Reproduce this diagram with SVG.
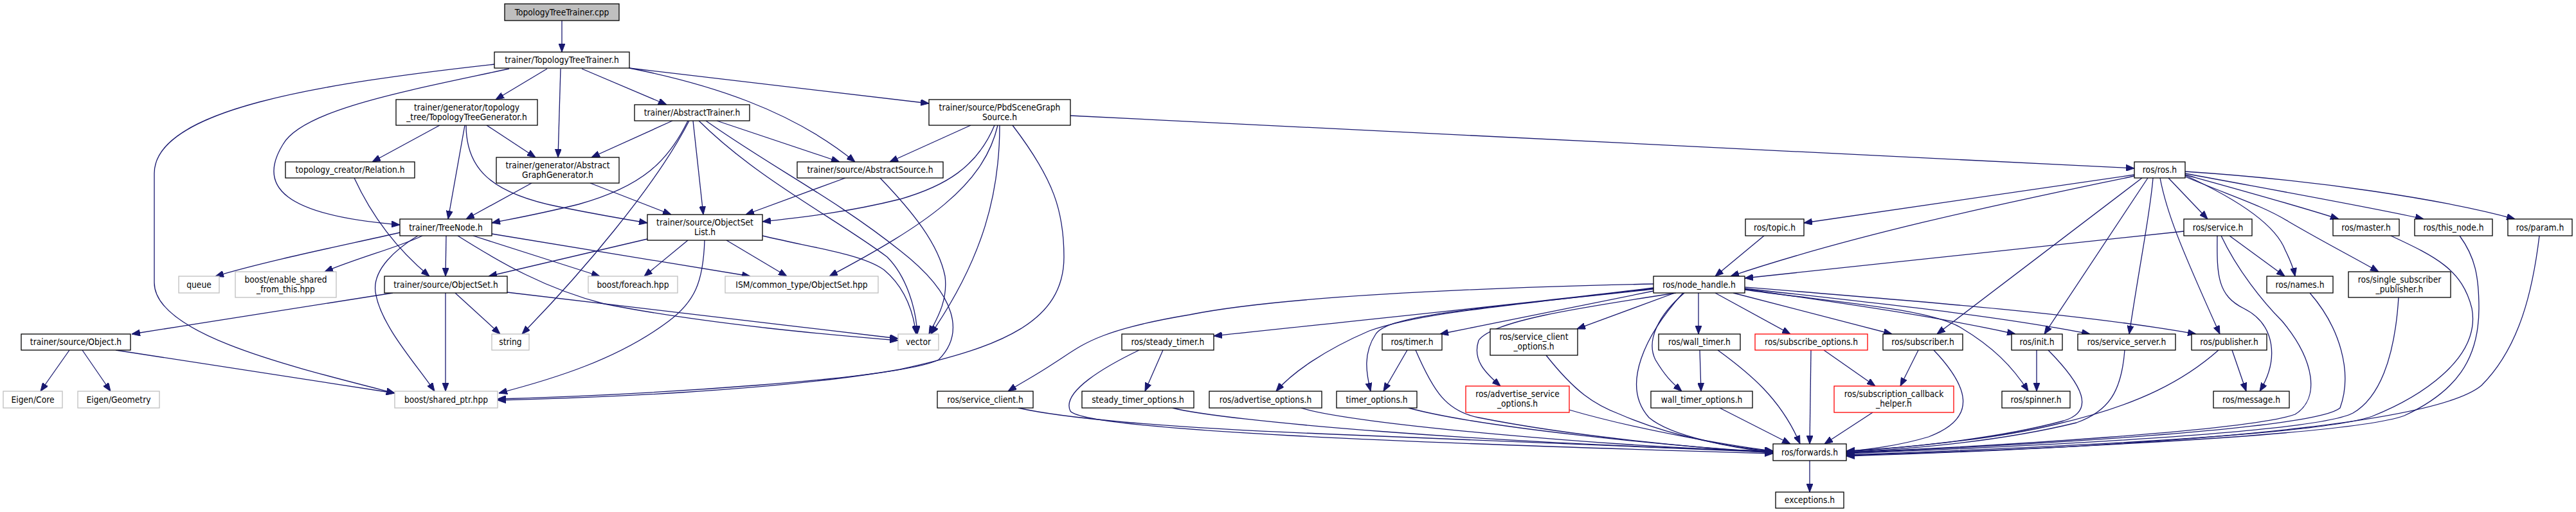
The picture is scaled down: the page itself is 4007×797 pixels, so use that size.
<svg xmlns="http://www.w3.org/2000/svg" width="4007" height="797" viewBox="0 0 4007 797">
<style>
.n rect{fill:#fff;stroke:#000;stroke-width:1.3}
.g rect{stroke:#bfbfbf}
.r rect{stroke:#ff0000}
.root rect{fill:#bfbfbf}
text{font-family:'DejaVu Sans Condensed','Liberation Sans',Arial,sans-serif;font-size:13.7px;text-anchor:middle;fill:#000}
#edges path{fill:none;stroke:#191970;stroke-width:1.3;marker-end:url(#a)}
</style>
<defs>
<marker id="a" markerUnits="userSpaceOnUse" markerWidth="13" markerHeight="10" refX="13" refY="5" orient="auto" viewBox="0 0 13 10"><path d="M0,0 L13,5 L0,10 z" fill="#191970" stroke="#191970" stroke-width="1"/></marker>
</defs>
<rect width="4007" height="797" fill="#fff"/>
<g id="edges">
<path d="M874,32 L874,81"/>
<path d="M851,107 L771,155"/>
<path d="M872,107 L868,245"/>
<path d="M905,107 L1037,163"/>
<path d="M979,106 C1100,130 1230,170 1330,252"/>
<path d="M979,106 L1445,161"/>
<path d="M792,107 C640,140 470,170 440,225 C400,290 440,335 622,350"/>
<path d="M769,100 C500,130 240,170 240,270 L240,440 C240,520 450,570 614,612"/>
<path d="M684,195 L579,252"/>
<path d="M723,195 L697,341"/>
<path d="M757,195 L833,245"/>
<path d="M725,195 C725,260 760,300 870,322 C930,334 970,341 1007,347"/>
<path d="M1046,188 L920,245"/>
<path d="M1070,188 C1040,250 1000,290 900,318 C840,333 800,340 765,347"/>
<path d="M1072,188 C1020,290 900,430 812,520"/>
<path d="M1078,188 L1094,334"/>
<path d="M1115,188 L1306,252"/>
<path d="M1087,188 C1180,280 1300,340 1380,400 C1410,430 1425,480 1427,520"/>
<path d="M1098,188 C1200,260 1300,310 1400,390 C1490,460 1500,520 1460,560 C1400,590 1000,615 774,621"/>
<path d="M827,285 L725,341"/>
<path d="M918,285 L1044,334"/>
<path d="M1315,277 L1160,334"/>
<path d="M1369,277 C1420,330 1460,380 1470,430 C1475,470 1455,500 1445,520"/>
<path d="M1510,195 L1384,252"/>
<path d="M1547,195 C1520,260 1470,290 1400,310 C1320,330 1250,338 1186,345"/>
<path d="M1552,195 C1530,290 1440,350 1290,430"/>
<path d="M1555,195 C1555,300 1530,400 1448,520"/>
<path d="M1575,195 C1640,280 1655,330 1655,400 C1655,500 1560,540 1400,575 C1200,610 900,620 774,623"/>
<path d="M1665,180 L3320,262"/>
<path d="M551,277 C580,340 620,390 668,430"/>
<path d="M622,362 C520,385 420,405 335,430"/>
<path d="M657,367 C620,385 560,400 505,423"/>
<path d="M650,367 C620,385 575,420 585,460 C595,510 650,570 676,609"/>
<path d="M694,367 L693,430"/>
<path d="M712,367 C780,410 850,450 940,473 C1100,505 1300,522 1397,530"/>
<path d="M736,367 L933,430"/>
<path d="M765,364 L1167,430"/>
<path d="M1007,372 L760,430"/>
<path d="M1070,374 L1002,430"/>
<path d="M1096,374 C1094,440 1080,470 1040,500 C960,560 860,590 776,612"/>
<path d="M1130,374 L1224,430"/>
<path d="M1186,367 C1260,385 1340,395 1375,420 C1405,445 1420,480 1425,520"/>
<path d="M611,456 L205,520"/>
<path d="M708,456 L778,520"/>
<path d="M693,456 L693,609"/>
<path d="M789,455 L1397,527"/>
<path d="M108,545 L63,609"/>
<path d="M128,545 L172,609"/>
<path d="M180,545 L614,612"/>
<path d="M3320,272 L2806,347"/>
<path d="M3320,274 C3150,310 2900,360 2692,430"/>
<path d="M3332,277 L3013,520"/>
<path d="M3341,277 L3180,520"/>
<path d="M3349,277 C3345,330 3330,400 3312,520"/>
<path d="M3360,277 C3370,330 3390,380 3453,520"/>
<path d="M3373,277 L3434,341"/>
<path d="M3399,273 C3480,310 3540,350 3555,390 C3565,410 3568,420 3570,430"/>
<path d="M3399,275 C3470,305 3520,320 3560,345 C3620,380 3660,400 3700,423"/>
<path d="M3399,272 C3500,300 3580,322 3638,341"/>
<path d="M3399,270 C3560,300 3700,325 3770,341"/>
<path d="M3399,267 C3600,280 3800,310 3912,341"/>
<path d="M2744,367 L2668,430"/>
<path d="M3397,360 L2714,433"/>
<path d="M3468,367 L3554,430"/>
<path d="M3449,367 C3448,430 3450,460 3490,480 C3540,505 3545,560 3515,609"/>
<path d="M3455,367 C3480,420 3520,470 3550,500 C3600,560 3610,620 3570,645 C3500,670 3100,695 2872,704"/>
<path d="M3472,545 L3494,609"/>
<path d="M3451,545 C3400,590 3330,630 3200,660 C3100,685 2950,698 2872,702"/>
<path d="M3593,456 C3640,510 3660,580 3640,635 C3600,670 3100,695 2872,705"/>
<path d="M3731,463 C3725,560 3700,620 3660,643 C3600,675 3100,697 2872,706"/>
<path d="M3719,367 C3790,400 3830,420 3845,480 C3860,560 3760,620 3690,648 C3600,680 3100,700 2872,708"/>
<path d="M3826,367 C3850,400 3856,430 3856,480 C3856,560 3820,610 3740,647 C3650,680 3100,702 2872,709"/>
<path d="M3950,367 C3940,450 3920,540 3860,600 C3800,650 3500,690 2872,710"/>
<path d="M2572,442 C2300,448 2000,460 1850,490 C1700,515 1680,540 1640,565 C1610,585 1590,595 1568,609"/>
<path d="M2572,448 C2400,470 2100,500 1888,523"/>
<path d="M2572,449 C2300,480 2200,490 2130,515 C2060,545 2010,580 1985,609"/>
<path d="M2572,450 C2300,480 2160,490 2140,520 C2120,550 2125,580 2132,609"/>
<path d="M2572,453 L2240,520"/>
<path d="M2607,456 C2450,480 2320,500 2300,530 C2290,560 2310,580 2334,601"/>
<path d="M2605,456 L2453,512"/>
<path d="M2620,456 C2580,490 2560,530 2575,560 C2590,585 2600,595 2616,609"/>
<path d="M2642,456 L2642,520"/>
<path d="M2618,456 C2560,520 2520,600 2565,650 C2600,680 2700,698 2758,704"/>
<path d="M2668,456 L2785,520"/>
<path d="M2696,456 L2943,520"/>
<path d="M2714,447 C3000,470 3250,490 3416,520"/>
<path d="M2714,449 C2900,470 3100,490 3251,520"/>
<path d="M2714,450 C2850,470 3000,490 3135,520"/>
<path d="M2714,451 C2850,470 3000,480 3050,510 C3100,540 3130,570 3155,609"/>
<path d="M1809,545 L1781,609"/>
<path d="M1772,545 C1720,570 1650,610 1665,640 C1690,670 2200,690 2758,706"/>
<path d="M2189,545 L2152,609"/>
<path d="M2202,545 C2230,610 2250,640 2300,650 C2450,680 2650,698 2758,705"/>
<path d="M2405,553 C2450,610 2480,630 2520,645 C2600,680 2700,698 2758,702"/>
<path d="M2644,545 L2646,609"/>
<path d="M2672,545 C2720,580 2770,620 2800,691"/>
<path d="M2837,545 L2917,601"/>
<path d="M2817,545 L2815,691"/>
<path d="M2984,545 L2956,601"/>
<path d="M3008,545 C3060,600 3080,650 3000,680 C2950,695 2900,700 2872,703"/>
<path d="M3168,545 L3168,609"/>
<path d="M3186,545 C3240,600 3260,640 3210,655 C3100,685 2950,698 2872,703"/>
<path d="M3305,545 C3300,610 3280,640 3230,658 C3100,690 2950,700 2872,704"/>
<path d="M1584,635 C1650,650 1800,665 2050,675 C2400,690 2650,700 2758,704"/>
<path d="M1824,635 C1900,655 2300,690 2758,702"/>
<path d="M2024,635 C2100,660 2500,695 2758,703"/>
<path d="M2191,635 C2300,665 2600,695 2758,704"/>
<path d="M2441,638 C2550,670 2700,695 2758,702"/>
<path d="M2675,635 L2785,691"/>
<path d="M2913,642 L2838,691"/>
<path d="M2815,717 L2815,766"/>
</g>
<g id="n_cpp" class="n root"><rect x="785" y="6" width="178" height="26"/><text x="874" y="23.5">TopologyTreeTrainer.cpp</text></g>
<g id="n_ttt" class="n"><rect x="769" y="81" width="210" height="25"/><text x="874" y="98">trainer/TopologyTreeTrainer.h</text></g>
<g id="n_ttg" class="n"><rect x="616" y="155" width="220" height="40"/><text x="726" y="171.5">trainer/generator/topology</text><text x="726" y="186.5">_tree/TopologyTreeGenerator.h</text></g>
<g id="n_at" class="n"><rect x="987" y="163" width="179" height="25"/><text x="1076.5" y="180">trainer/AbstractTrainer.h</text></g>
<g id="n_psg" class="n"><rect x="1445" y="155" width="220" height="40"/><text x="1555" y="171.5">trainer/source/PbdSceneGraph</text><text x="1555" y="186.5">Source.h</text></g>
<g id="n_rel" class="n"><rect x="444" y="252" width="201" height="25"/><text x="544.5" y="269">topology_creator/Relation.h</text></g>
<g id="n_agg" class="n"><rect x="772" y="245" width="191" height="40"/><text x="867.5" y="261.5">trainer/generator/Abstract</text><text x="867.5" y="276.5">GraphGenerator.h</text></g>
<g id="n_as" class="n"><rect x="1240" y="252" width="227" height="25"/><text x="1353.5" y="269">trainer/source/AbstractSource.h</text></g>
<g id="n_ros" class="n"><rect x="3320" y="252" width="79" height="25"/><text x="3359.5" y="269">ros/ros.h</text></g>
<g id="n_tn" class="n"><rect x="622" y="341" width="143" height="26"/><text x="693.5" y="358.5">trainer/TreeNode.h</text></g>
<g id="n_osl" class="n"><rect x="1007" y="334" width="179" height="40"/><text x="1096.5" y="350.5">trainer/source/ObjectSet</text><text x="1096.5" y="365.5">List.h</text></g>
<g id="n_topic" class="n"><rect x="2715" y="341" width="91" height="26"/><text x="2760.5" y="358.5">ros/topic.h</text></g>
<g id="n_service" class="n"><rect x="3397" y="341" width="106" height="26"/><text x="3450" y="358.5">ros/service.h</text></g>
<g id="n_master" class="n"><rect x="3629" y="341" width="103" height="26"/><text x="3680.5" y="358.5">ros/master.h</text></g>
<g id="n_thisnode" class="n"><rect x="3756" y="341" width="121" height="26"/><text x="3816.5" y="358.5">ros/this_node.h</text></g>
<g id="n_param" class="n"><rect x="3901" y="341" width="100" height="26"/><text x="3951" y="358.5">ros/param.h</text></g>
<g id="n_queue" class="n g"><rect x="278" y="430" width="63" height="26"/><text x="309.5" y="447.5">queue</text></g>
<g id="n_esft" class="n g"><rect x="366" y="423" width="157" height="40"/><text x="444.5" y="439.5">boost/enable_shared</text><text x="444.5" y="454.5">_from_this.hpp</text></g>
<g id="n_os" class="n"><rect x="598" y="430" width="191" height="26"/><text x="693.5" y="447.5">trainer/source/ObjectSet.h</text></g>
<g id="n_foreach" class="n g"><rect x="915" y="430" width="139" height="26"/><text x="984.5" y="447.5">boost/foreach.hpp</text></g>
<g id="n_ism" class="n g"><rect x="1128" y="430" width="238" height="26"/><text x="1247" y="447.5">ISM/common_type/ObjectSet.hpp</text></g>
<g id="n_nh" class="n"><rect x="2572" y="430" width="142" height="26"/><text x="2643" y="447.5">ros/node_handle.h</text></g>
<g id="n_names" class="n"><rect x="3526" y="430" width="103" height="26"/><text x="3577.5" y="447.5">ros/names.h</text></g>
<g id="n_ssp" class="n"><rect x="3653" y="423" width="159" height="40"/><text x="3732.5" y="439.5">ros/single_subscriber</text><text x="3732.5" y="454.5">_publisher.h</text></g>
<g id="n_obj" class="n"><rect x="33" y="520" width="170" height="25"/><text x="118" y="537">trainer/source/Object.h</text></g>
<g id="n_string" class="n g"><rect x="765" y="520" width="58" height="25"/><text x="794" y="537">string</text></g>
<g id="n_vector" class="n g"><rect x="1397" y="520" width="63" height="25"/><text x="1428.5" y="537">vector</text></g>
<g id="n_stimer" class="n"><rect x="1745" y="520" width="143" height="25"/><text x="1816.5" y="537">ros/steady_timer.h</text></g>
<g id="n_timer" class="n"><rect x="2150" y="520" width="93" height="25"/><text x="2196.5" y="537">ros/timer.h</text></g>
<g id="n_sco" class="n"><rect x="2318" y="512" width="136" height="41"/><text x="2386" y="529">ros/service_client</text><text x="2386" y="544">_options.h</text></g>
<g id="n_wtimer" class="n"><rect x="2580" y="520" width="127" height="25"/><text x="2643.5" y="537">ros/wall_timer.h</text></g>
<g id="n_subopt" class="n r"><rect x="2730" y="520" width="175" height="25"/><text x="2817.5" y="537">ros/subscribe_options.h</text></g>
<g id="n_sub" class="n"><rect x="2929" y="520" width="124" height="25"/><text x="2991" y="537">ros/subscriber.h</text></g>
<g id="n_init" class="n"><rect x="3129" y="520" width="79" height="25"/><text x="3168.5" y="537">ros/init.h</text></g>
<g id="n_ss" class="n"><rect x="3232" y="520" width="152" height="25"/><text x="3308" y="537">ros/service_server.h</text></g>
<g id="n_pub" class="n"><rect x="3409" y="520" width="117" height="25"/><text x="3467.5" y="537">ros/publisher.h</text></g>
<g id="n_ecore" class="n g"><rect x="5" y="609" width="92" height="26"/><text x="51" y="626.5">Eigen/Core</text></g>
<g id="n_egeo" class="n g"><rect x="121" y="609" width="127" height="26"/><text x="184.5" y="626.5">Eigen/Geometry</text></g>
<g id="n_sp" class="n g"><rect x="614" y="609" width="160" height="26"/><text x="694" y="626.5">boost/shared_ptr.hpp</text></g>
<g id="n_sc" class="n"><rect x="1458" y="609" width="149" height="26"/><text x="1532.5" y="626.5">ros/service_client.h</text></g>
<g id="n_sto" class="n"><rect x="1683" y="609" width="174" height="26"/><text x="1770" y="626.5">steady_timer_options.h</text></g>
<g id="n_ao" class="n"><rect x="1881" y="609" width="175" height="26"/><text x="1968.5" y="626.5">ros/advertise_options.h</text></g>
<g id="n_to" class="n"><rect x="2079" y="609" width="125" height="26"/><text x="2141.5" y="626.5">timer_options.h</text></g>
<g id="n_aso" class="n r"><rect x="2280" y="601" width="161" height="41"/><text x="2360.5" y="618">ros/advertise_service</text><text x="2360.5" y="633">_options.h</text></g>
<g id="n_wto" class="n"><rect x="2568" y="609" width="158" height="26"/><text x="2647" y="626.5">wall_timer_options.h</text></g>
<g id="n_sch" class="n r"><rect x="2853" y="601" width="186" height="41"/><text x="2946" y="618">ros/subscription_callback</text><text x="2946" y="633">_helper.h</text></g>
<g id="n_spinner" class="n"><rect x="3114" y="609" width="106" height="26"/><text x="3167" y="626.5">ros/spinner.h</text></g>
<g id="n_message" class="n"><rect x="3443" y="609" width="118" height="26"/><text x="3502" y="626.5">ros/message.h</text></g>
<g id="n_fwd" class="n"><rect x="2758" y="691" width="114" height="26"/><text x="2815" y="708.5">ros/forwards.h</text></g>
<g id="n_exc" class="n"><rect x="2762" y="766" width="106" height="25"/><text x="2815" y="783">exceptions.h</text></g>
</svg>
